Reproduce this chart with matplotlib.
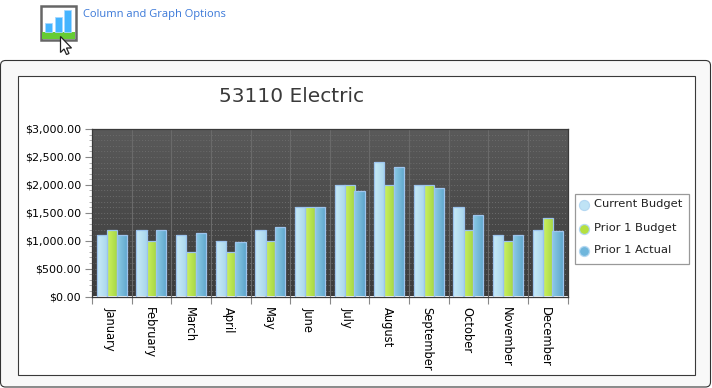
import numpy as np
import matplotlib
matplotlib.use("Agg")
import matplotlib.pyplot as plt
from matplotlib.patches import FancyBboxPatch, Rectangle, Polygon, Circle
from matplotlib.colors import LinearSegmentedColormap
from matplotlib.ticker import MultipleLocator, FuncFormatter

months = ["January", "February", "March", "April", "May", "June", "July",
          "August", "September", "October", "November", "December"]
current_budget = [1100, 1200, 1100, 1000, 1200, 1600, 2000, 2410, 2000, 1600, 1100, 1200]
prior_budget = [1200, 1000, 800, 800, 1000, 1600, 2000, 2000, 2000, 1200, 1000, 1400]
prior_actual = [1110, 1200, 1130, 970, 1240, 1600, 1890, 2320, 1950, 1460, 1100, 1170]
series_names = ["Current Budget", "Prior 1 Budget", "Prior 1 Actual"]
title = "53110 Electric"
link_text = "Column and Graph Options"

W, H = 712, 388
fig = plt.figure(figsize=(W / 100, H / 100), dpi=100, facecolor="white")

# page overlay in pixel coordinates
bg = fig.add_axes([0, 0, 1, 1], zorder=0)
bg.set_xlim(0, W); bg.set_ylim(H, 0); bg.axis("off")
bg.add_patch(FancyBboxPatch((0.5, 60.5), 710, 326.5, boxstyle="round,pad=0,rounding_size=5",
                            fc="#f8f8f8", ec="#333333", lw=0.8))
bg.add_patch(Rectangle((17.5, 75.5), 677, 299, fc="white", ec="#3a3a3a", lw=0.8))

# icon
bg.add_patch(Rectangle((41, 6), 35, 34, fc="white", ec="#666666", lw=1.8))
bg.add_patch(Rectangle((42, 32), 33, 7, fc="#66cc33", ec="none"))
for x, top, h in [(45, 23, 9), (54.5, 16.5, 15.5), (64, 10, 22)]:
    bg.add_patch(Rectangle((x, top), 7, h, fc="#44b4ff", ec="#a6d8ff", lw=0.6))
bg.add_patch(Polygon([(60.5, 36.5), (60.5, 52.5), (64, 49), (66.5, 54.5), (69, 53.5),
                      (66.5, 48), (71.5, 48)], closed=True, fc="white", ec="#222222", lw=0.9))
bg.text(83, 14, link_text, fontsize=8.05, color="#3a78d8", family="Open Sans", va="center", ha="left")

# chart
x0, x1, y0, y1 = 92, 567.5, 129, 296.5
ax = fig.add_axes([x0 / W, 1 - y1 / H, (x1 - x0) / W, (y1 - y0) / H], zorder=1)
n = len(months)
ax.set_xlim(0, n); ax.set_ylim(0, 3000)

bg_cmap = LinearSegmentedColormap.from_list("plotbg", ["#5a5a5a", "#3b3b3b"])
ax.imshow(np.linspace(0, 1, 256).reshape(-1, 1), aspect="auto", cmap=bg_cmap,
          extent=(0, n, 0, 3000), origin="upper", zorder=0)

ax.yaxis.set_major_locator(MultipleLocator(500))
ax.yaxis.set_minor_locator(MultipleLocator(100))
ax.xaxis.set_major_locator(MultipleLocator(1))
ax.yaxis.set_major_formatter(FuncFormatter(lambda v, _: f"${v:,.2f}"))
ax.grid(True, axis="y", which="both", color="#6c6c6c", ls=(0, (1, 2)), lw=0.7, zorder=1)
ax.grid(True, axis="x", which="major", color="#6a6a6a", ls="-", lw=0.8, zorder=1)
ax.tick_params(axis="y", which="major", length=5, width=0.8, color="#888888", labelsize=8, pad=3, labelcolor="black")
ax.tick_params(axis="y", which="minor", length=2.5, width=0.7, color="#b0b0b0")
ax.tick_params(axis="x", which="major", length=5, width=0.8, color="#888888", bottom=True, labelbottom=False)
for side, sp in ax.spines.items():
    sp.set_color("#3a3a3a"); sp.set_linewidth(0.9)
ax.set_axisbelow(True)

for i, m in enumerate(months):
    ax.text(i + 0.45, -0.06, m, rotation=270, ha="center", va="top", fontsize=8.3,
            transform=ax.get_xaxis_transform(), color="black", clip_on=False)

gradients = [["#c8ebf7", "#a9d6ec"],
             ["#cdf25e", "#a4d544"],
             ["#8ccbe6", "#5fa6cc"]]
offsets = [-0.25, 0.0, 0.25]
width = 0.26
arr = [current_budget, prior_budget, prior_actual]
layer = {1: 2.2, 0: 3.2, 2: 3.2}
for k in [1, 0, 2]:
    cmap = LinearSegmentedColormap.from_list(f"s{k}", gradients[k])
    xs = np.arange(n) + 0.5 + offsets[k]
    bars = ax.bar(xs, arr[k], width=width, fc="none", ec="#9cc4ee", lw=0.9, zorder=layer[k] + 0.5)
    for b in bars:
        im = ax.imshow(np.linspace(0, 1, 32).reshape(1, -1), aspect="auto", cmap=cmap,
                       extent=(b.get_x(), b.get_x() + b.get_width(), 0, b.get_height()), zorder=layer[k])
        im.set_clip_path(b.get_path(), b.get_patch_transform() + ax.transData)
ax.set_xlim(0, n); ax.set_ylim(0, 3000)

ov = fig.add_axes([0, 0, 1, 1], zorder=2)
ov.set_xlim(0, W); ov.set_ylim(H, 0); ov.axis("off"); ov.patch.set_alpha(0)
ov.add_patch(Rectangle((574.5, 193.5), 114, 70, fc="white", ec="#999999", lw=0.9))
ov.text(291.5, 96, title, fontsize=14.5, color="#3a3a3a", ha="center", va="center")
for name, y, fc in zip(series_names, [204.5, 228.5, 250.5], ["#bfe3f5", "#b4e040", "#6fb6dc"]):
    ov.add_patch(Circle((584.5, y + 1), 5, fc=fc, ec="#b5d8f2", lw=0.9))
    ov.text(594.5, y - 0.5, name, fontsize=8.25, color="#222222", va="center", ha="left")

fig.savefig("out.png", dpi=100, facecolor="white")
